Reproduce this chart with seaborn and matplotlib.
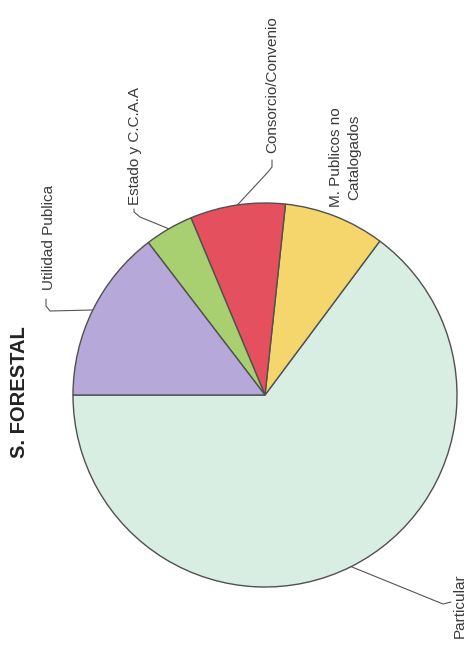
import numpy as np
import matplotlib
matplotlib.use("Agg")
import matplotlib.pyplot as plt
import seaborn as sns

# -----------------------------
# Data (shares, %)
# -----------------------------
labels = ["Particular", "M. Publicos no\nCatalogados", "Consorcio/Convenio",
          "Estado y C.C.A.A", "Utilidad Publica"]
shares = [64.8, 8.5, 8.0, 4.1, 14.6]
colors = ["#d8eee2", "#f5d66c", "#e5505f", "#a8cf70", "#b6a9d9"]
title = "S. FORESTAL"

# -----------------------------
# Layout (image pixel coords, y downwards)
# -----------------------------
W, H = 474, 647
CX, CY, R = 265, 395, 192
label_pos = {
    "Particular": (460, 606),
    "M. Publicos no\nCatalogados": (345, 157),
    "Consorcio/Convenio": (272, 85),
    "Estado y C.C.A.A": (135, 146),
    "Utilidad Publica": (49, 237),
}
# elbow points of the leader lines (None = no leader)
leader_pts = {
    "Particular": [(443, 604), (451, 602)],
    "M. Publicos no\nCatalogados": None,
    "Consorcio/Convenio": [(268, 172), (272, 167), (272, 160)],
    "Estado y C.C.A.A": [(140, 217), (134, 212), (134, 209)],
    "Utilidad Publica": [(50, 311), (46, 306), (46, 299)],
}


def img(x, y):
    return x, H - y


sns.set_theme(style="white")
plt.rcParams["font.family"] = ["Liberation Sans", "DejaVu Sans"]

fig = plt.figure(figsize=(W / 100, H / 100), dpi=100)
ax = fig.add_axes([0, 0, 1, 1])
wedges, _ = ax.pie(
    shares, colors=colors, startangle=180, counterclock=True,
    center=img(CX, CY), radius=R, frame=True,
    wedgeprops=dict(edgecolor="#505050", linewidth=1.0),
)
ax.set_xlim(0, W)
ax.set_ylim(0, H)
ax.set_aspect("equal")
ax.axis("off")

txt_color = "#3a3a3a"
for w, lab in zip(wedges, labels):
    tx, ty = img(*label_pos[lab])
    ax.text(tx, ty, lab, rotation=90, ha="center", va="center",
            fontsize=11, color=txt_color, linespacing=1.45,
            multialignment="center")
    pts = leader_pts[lab]
    if pts is None:
        continue
    mid = np.deg2rad((w.theta1 + w.theta2) / 2)
    x0 = w.center[0] + R * np.cos(mid)
    y0 = w.center[1] + R * np.sin(mid)
    xs = [x0] + [img(*p)[0] for p in pts]
    ys = [y0] + [img(*p)[1] for p in pts]
    ax.plot(xs, ys, color="#555555", lw=0.8)

ax.text(*img(20, 392), title, rotation=90, ha="center", va="center",
        fontsize=14.5, fontweight="bold", color="#222222")

fig.savefig("out.png", dpi=100)
